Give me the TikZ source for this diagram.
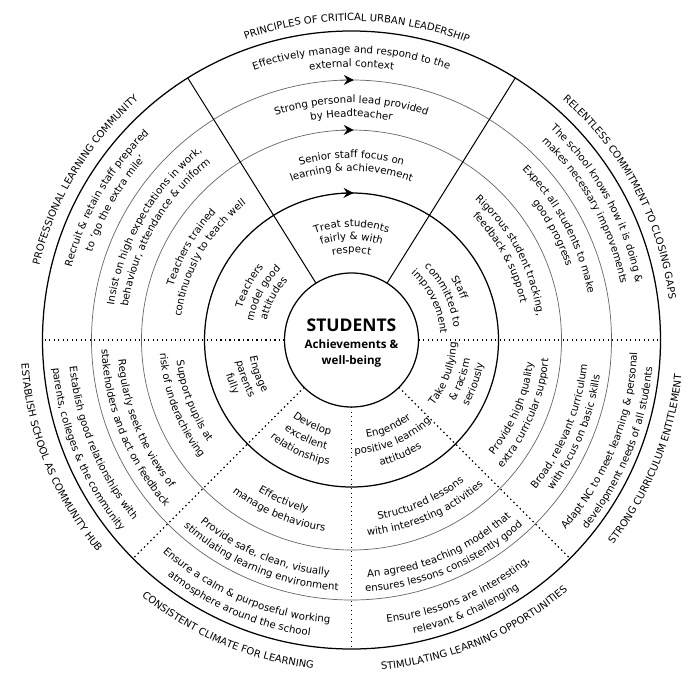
\documentclass[tikz,border=0pt]{standalone}
\usepackage{fontspec}
\setmainfont{DejaVu Sans}
\newfontfamily\centrefont{Open Sans}
\usetikzlibrary{decorations.text,arrows.meta}
\newcommand\bodyfont{\fontsize{10.2}{12}\selectfont}
\newcommand\labfont{\fontsize{10}{12}\selectfont}
% #1 centre angle, #2 baseline radius, #3 direction (1 = clockwise, -1 = counter-clockwise), #4 font, #5 text
\newcommand\arctext[5]{%
  \begingroup#4%
  \pgfmathsetmacro\arcsa{#1+(#3)*75}%
  \pgfmathsetmacro\arcea{#1-(#3)*75}%
  \path[decorate,decoration={text along path,text align=center,text={#5}}]
    (\arcsa:#2pt) arc[start angle=\arcsa,end angle=\arcea,radius=#2pt];%
  \endgroup}
\begin{document}
\begin{tikzpicture}[x=1pt,y=1pt,
  thickring/.style={line width=1.25pt,draw=black},
  thinring/.style={line width=0.7pt,draw=black!60},
  divider/.style={line width=1pt,draw=black},
  dotline/.style={line width=1.4pt,dash pattern=on 1.4pt off 3.1pt},
  arrowmark/.style={line width=0.8pt,-{Stealth[length=10pt,width=10pt,inset=3.5pt,color=black]}}]
\fill[white] (-351.5,-335) rectangle (348.5,340);
\useasboundingbox (-351.5,-335) rectangle (348.5,340);
\coordinate (O) at (0,0);
\bodyfont
% rings
\draw[thinring] (O) circle[radius=260pt];
\draw[thinring] (O) circle[radius=210pt];
\draw[thickring] (O) circle[radius=147pt];
\draw[thickring] (O) circle[radius=309pt];
\node[circle,thickring,minimum size=134pt,inner sep=0pt] (students) at (O) {};
% solid dividers
\foreach \a/\n in {58/r,122/l}{
  \coordinate (\n in) at (\a:67pt);
  \coordinate (\n out) at (\a:309pt);
  \draw[divider] (\n in) -- (\n out);}
% dotted dividers
\foreach \a/\n in {0/d0,180/d1,225/d2,270/d3,315/d4}{
  \coordinate (\n in) at (\a:67pt);
  \coordinate (\n out) at (\a:309pt);
  \draw[dotline] (\n in) -- (\n out);}
% arrows on the rings
\draw[arrowmark,draw=black] (94:147pt) arc[start angle=94,end angle=89.2,radius=147pt];
\draw[arrowmark,draw=black!60] (93:210pt) arc[start angle=93,end angle=89.4,radius=210pt];
\draw[arrowmark,draw=black!60] (92.5:260pt) arc[start angle=92.5,end angle=89.5,radius=260pt];
% centre text
\node[anchor=base,font=\centrefont\fontsize{17.5}{20}\selectfont\bfseries,inner sep=0pt] (t1) at (0,9) {STUDENTS};
\node[anchor=base,font=\centrefont\fontsize{11.6}{14}\selectfont\bfseries,inner sep=0pt] (t2) at (0,-8) {Achievements \&};
\node[anchor=base,font=\centrefont\fontsize{11.6}{14}\selectfont\bfseries,inner sep=0pt] (t3) at (0,-24) {well-being};
% outer labels
\arctext{89}{319}{1}{\labfont}{PRINCIPLES OF CRITICAL URBAN LEADERSHIP}
\arctext{28}{320}{1}{\labfont}{RELENTLESS COMMITMENT TO CLOSING GAPS}
\arctext{149}{321}{1}{\labfont}{PROFESSIONAL LEARNING COMMUNITY}
\arctext{202}{331}{-1}{\labfont}{ESTABLISH SCHOOL AS COMMUNITY HUB}
\arctext{247}{331}{-1}{\labfont}{CONSISTENT CLIMATE FOR LEARNING}
\arctext{293}{331}{-1}{\labfont}{STIMULATING LEARNING OPPORTUNITIES}
\arctext{338}{332}{-1}{\labfont}{STRONG CURRICULUM ENTITLEMENT}
% top sector
\arctext{90}{287}{1}{\bodyfont}{Effectively manage and respond to the}
\arctext{90}{273}{1}{\bodyfont}{external context}
\arctext{90}{237}{1}{\bodyfont}{Strong personal lead provided}
\arctext{90}{223}{1}{\bodyfont}{by Headteacher}
\arctext{90}{182}{1}{\bodyfont}{Senior staff focus on}
\arctext{90}{169}{1}{\bodyfont}{learning {\&} achievement}
\arctext{90}{113}{1}{\bodyfont}{Treat students}
\arctext{90}{100}{1}{\bodyfont}{fairly {\&} with}
\arctext{90}{87}{1}{\bodyfont}{respect}
% upper left sector
\arctext{150}{289}{1}{\bodyfont}{Recruit {\&} retain staff prepared}
\arctext{150}{274}{1}{\bodyfont}{to ‘go the extra mile’}
\arctext{150}{240}{1}{\bodyfont}{Insist on high expectations in work,}
\arctext{150}{226}{1}{\bodyfont}{behaviour, attendance {\&} uniform}
\arctext{150}{186}{1}{\bodyfont}{Teachers trained}
\arctext{150}{172}{1}{\bodyfont}{continuously to teach well}
\arctext{152}{114}{1}{\bodyfont}{Teachers}
\arctext{152}{100}{1}{\bodyfont}{model good}
\arctext{152}{87}{1}{\bodyfont}{attitudes}
% upper right sector
\arctext{29}{290}{1}{\bodyfont}{The school knows how it is doing {\&}}
\arctext{29}{275}{1}{\bodyfont}{makes necessary improvements}
\arctext{28}{241}{1}{\bodyfont}{Expect all students to make}
\arctext{28}{227}{1}{\bodyfont}{good progress}
\arctext{28}{187}{1}{\bodyfont}{Rigorous student tracking,}
\arctext{29}{173}{1}{\bodyfont}{feedback {\&} support}
\arctext{26}{117}{1}{\bodyfont}{Staff}
\arctext{26}{103}{1}{\bodyfont}{committed to}
\arctext{26}{89}{1}{\bodyfont}{improvement}
% lower left sector
\arctext{202.5}{283}{-1}{\bodyfont}{Establish good relationships with}
\arctext{202.5}{300}{-1}{\bodyfont}{parents, colleges {\&} the community}
\arctext{202}{234}{-1}{\bodyfont}{Regularly seek the views of}
\arctext{202}{250}{-1}{\bodyfont}{stakeholders and act on feedback}
\arctext{201}{176}{-1}{\bodyfont}{Support pupils at}
\arctext{201}{192}{-1}{\bodyfont}{risk of underachieving}
\arctext{200}{103}{-1}{\bodyfont}{Engage}
\arctext{200}{117}{-1}{\bodyfont}{parents}
\arctext{200}{130}{-1}{\bodyfont}{fully}
% lower middle-left sector
\arctext{247}{284}{-1}{\bodyfont}{Ensure a calm {\&} purposeful working}
\arctext{247}{299}{-1}{\bodyfont}{atmosphere around the school}
\arctext{247.5}{237}{-1}{\bodyfont}{Provide safe, clean, visually}
\arctext{247.5}{251}{-1}{\bodyfont}{stimulating learning environment}
\arctext{247}{178}{-1}{\bodyfont}{Effectively}
\arctext{247}{193}{-1}{\bodyfont}{manage behaviours}
\arctext{245}{97}{-1}{\bodyfont}{Develop}
\arctext{245}{112}{-1}{\bodyfont}{excellent}
\arctext{245}{127}{-1}{\bodyfont}{relationships}
% lower middle-right sector
\arctext{293}{285}{-1}{\bodyfont}{Ensure lessons are interesting,}
\arctext{293}{300}{-1}{\bodyfont}{relevant {\&} challenging}
\arctext{293}{238}{-1}{\bodyfont}{An agreed teaching model that}
\arctext{293}{252}{-1}{\bodyfont}{ensures lessons consistently good}
\arctext{293.5}{181}{-1}{\bodyfont}{Structured lessons}
\arctext{293.5}{196}{-1}{\bodyfont}{with interesting activities}
\arctext{293}{99}{-1}{\bodyfont}{Engender}
\arctext{293}{114}{-1}{\bodyfont}{positive learning}
\arctext{293}{129}{-1}{\bodyfont}{attitudes}
% lower right sector
\arctext{338}{286}{-1}{\bodyfont}{Adapt NC to meet learning {\&} personal}
\arctext{338}{302}{-1}{\bodyfont}{development needs of all students}
\arctext{337.5}{237}{-1}{\bodyfont}{Broad, relevant curriculum}
\arctext{337.5}{251}{-1}{\bodyfont}{with focus on basic skills}
\arctext{337}{183}{-1}{\bodyfont}{Provide high quality}
\arctext{337}{198}{-1}{\bodyfont}{extra curricular support}
\arctext{340}{105}{-1}{\bodyfont}{Take bullying}
\arctext{340}{120}{-1}{\bodyfont}{{\&} racism}
\arctext{340}{134}{-1}{\bodyfont}{seriously}
\end{tikzpicture}
\end{document}
